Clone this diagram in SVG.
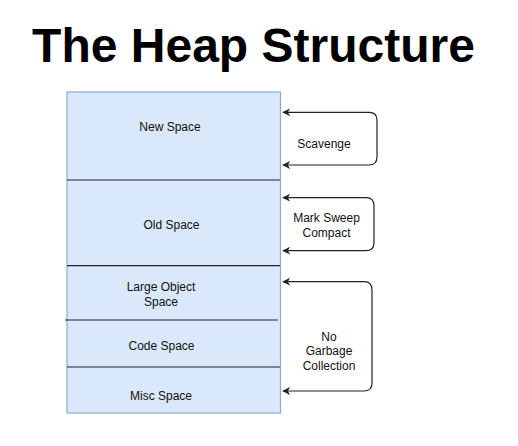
<svg xmlns="http://www.w3.org/2000/svg" width="518" height="446" viewBox="0 0 518 446">
<style>
text{font-family:"Liberation Sans",Arial,sans-serif;fill:#111;}
.lbl{font-size:12px;text-anchor:middle;dominant-baseline:central;}
.title{font-size:48px;font-weight:bold;text-anchor:middle;fill:#000;}
.div{stroke:#222;stroke-width:1.2;fill:none;}
.con{stroke:#222;stroke-width:1.2;fill:none;marker-end:url(#arr);marker-start:url(#arr);}
</style>
<defs>
<marker id="arr" viewBox="0 0 10 10" refX="9" refY="5" markerWidth="8" markerHeight="8" markerUnits="userSpaceOnUse" orient="auto-start-reverse">
<path d="M0,0 L10,5 L0,10 L3,5 Z" fill="#222"/>
</marker>
</defs>
<rect width="518" height="446" fill="#fff"/>
<text class="title" x="253.5" y="62">The Heap Structure</text>
<g id="heap">
<rect x="67" y="92" width="213.5" height="321" fill="#dae8fc" stroke="#8eaad3" stroke-width="1.2"/>
</g>
<g id="new-space">
<text class="lbl" x="170" y="127">New Space</text>
</g>
<g id="old-space">
<line class="div" x1="67" y1="180" x2="280" y2="180"/>
<text class="lbl" x="171.5" y="225">Old Space</text>
</g>
<g id="large-object-space">
<line class="div" x1="67" y1="265.7" x2="280" y2="265.7"/>
<text class="lbl" x="161" y="286.7">Large Object</text>
<text class="lbl" x="161" y="301.5">Space</text>
</g>
<g id="code-space">
<line class="div" x1="65" y1="320" x2="278" y2="320"/>
<text class="lbl" x="161.5" y="346">Code Space</text>
</g>
<g id="misc-space">
<line class="div" x1="67" y1="367" x2="280" y2="367"/>
<text class="lbl" x="161" y="395.7">Misc Space</text>
</g>
<g id="connectors">
<path class="con" d="M283,165 L369,165 Q377,165 377,157 L377,120 Q377,112.3 369,112.3 L283,112.3"/>
<path class="con" d="M283,250.7 L366,250.7 Q374,250.7 374,242.7 L374,205.7 Q374,197.7 366,197.7 L283,197.7"/>
<path class="con" d="M283,391 L364,391 Q372,391 372,383 L372,289.7 Q372,281.7 364,281.7 L283,281.7"/>
</g>
<g id="labels">
<text class="lbl" x="324" y="144">Scavenge</text>
<text class="lbl" x="326.5" y="217.7">Mark Sweep</text>
<text class="lbl" x="326.5" y="232.7">Compact</text>
<text class="lbl" x="329" y="337">No</text>
<text class="lbl" x="329" y="351">Garbage</text>
<text class="lbl" x="329" y="365.5">Collection</text>
</g>
</svg>
